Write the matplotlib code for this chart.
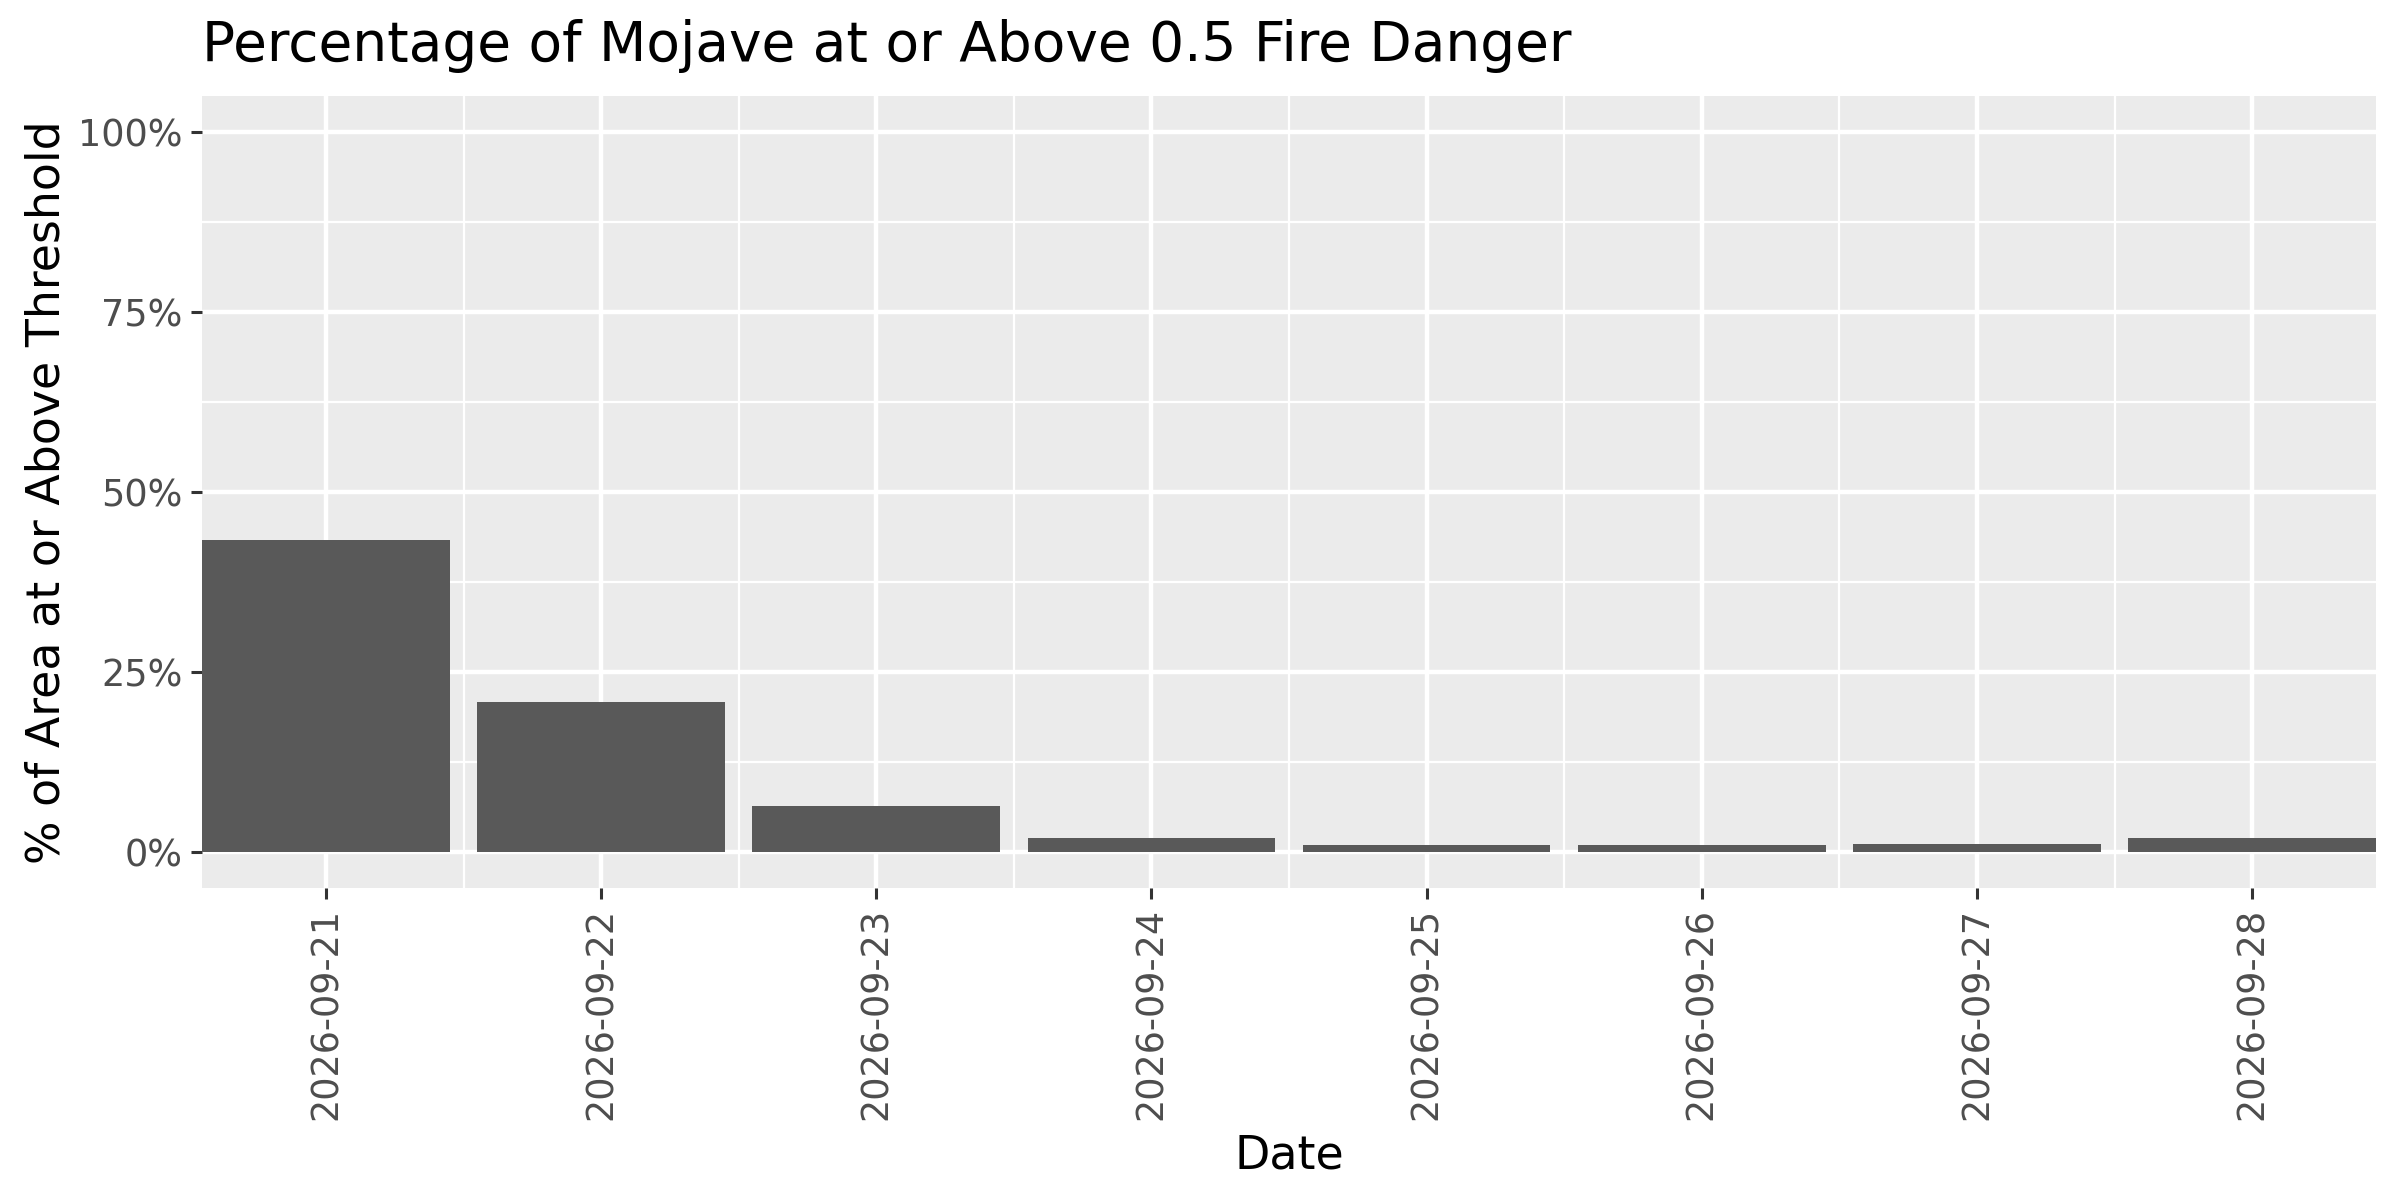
import numpy as np
import matplotlib
matplotlib.use("Agg")
import matplotlib.pyplot as plt

dates = ["2026-09-21", "2026-09-22", "2026-09-23", "2026-09-24",
         "2026-09-25", "2026-09-26", "2026-09-27", "2026-09-28"]
pct = [43.4, 20.9, 6.4, 2.0, 0.93, 0.93, 1.07, 1.9]
y_ticks = [0, 25, 50, 75, 100]
y_minor = [12.5, 37.5, 62.5, 87.5]

plt.rcParams['font.family'] = ['DejaVu Sans']

fig = plt.figure(figsize=(12, 6), dpi=200)
ax = fig.add_axes([0.0842, 0.260, 0.9058, 0.6596])
ax.set_facecolor("#EBEBEB")

x = np.arange(1, len(dates) + 1)

# grid
for v in y_ticks:
    ax.axhline(v, color="white", lw=1.6, zorder=1)
for v in y_minor:
    ax.axhline(v, color="white", lw=0.8, zorder=1)
for v in x:
    ax.axvline(v, color="white", lw=1.6, zorder=1)
for v in x[:-1] + 0.5:
    ax.axvline(v, color="white", lw=0.8, zorder=1)

ax.bar(x, pct, width=0.9, color="#595959", zorder=2)

ax.set_xlim(0.55, len(dates) + 0.45)
ax.set_ylim(-5, 105)
ax.set_xticks(x)
ax.set_xticklabels(dates, rotation=90)
ax.set_yticks(y_ticks)
ax.set_yticklabels([f"{v}%" for v in y_ticks])

for s in ax.spines.values():
    s.set_visible(False)
ax.tick_params(axis="both", colors="#333333", length=4.1, width=1.1,
               labelsize=13.2, labelcolor="#4D4D4D", pad=3)

ax.set_xlabel("Date", fontsize=16.5, labelpad=5)
ax.set_ylabel("% of Area at or Above Threshold", fontsize=16.5, labelpad=3)
fig.text(0.0842, 0.962, "Percentage of Mojave at or Above 0.5 Fire Danger",
         fontsize=19.8, ha="left", va="center")

fig.savefig("out.png", dpi=200)
